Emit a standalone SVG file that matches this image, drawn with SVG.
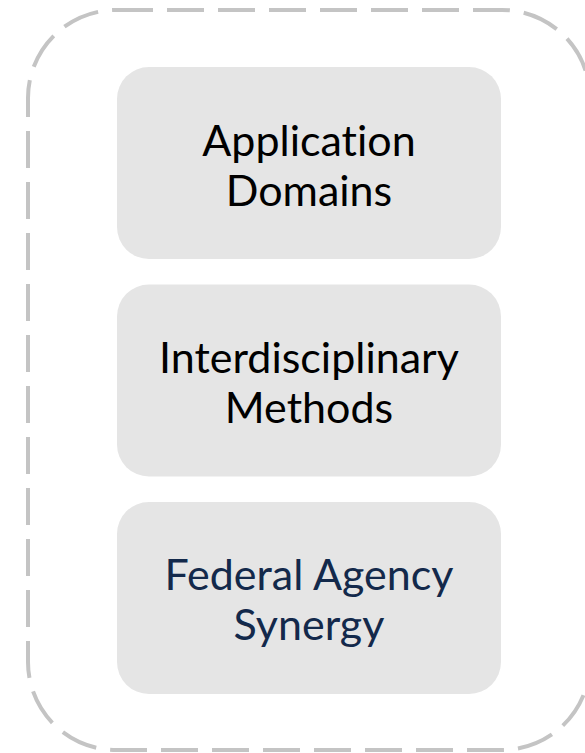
<svg xmlns="http://www.w3.org/2000/svg" width="585" height="753" viewBox="0 0 585 753">
<style>
.box{fill:#e5e5e5}
.t{font-family:Lato,"Liberation Sans",sans-serif;font-size:43px;text-anchor:middle;fill:#000;font-variant-ligatures:none}
.navy{fill:#13294b}
</style>
<rect width="585" height="753" fill="#fff"/>
<g id="container">
<rect x="28" y="10" width="562" height="740" rx="88" ry="88" fill="none" stroke="#c4c4c4" stroke-width="4" stroke-dasharray="37 14"/>
</g>
<g id="node-application">
<rect class="box" x="117" y="67" width="384" height="192" rx="32"/>
<text class="t" x="309" y="156">Application</text>
<text class="t" x="309" y="206">Domains</text>
</g>
<g id="node-methods">
<rect class="box" x="117" y="284.5" width="384" height="192" rx="32"/>
<text class="t" x="309" y="373">Interdisciplinary</text>
<text class="t" x="309" y="423">Methods</text>
</g>
<g id="node-federal">
<rect class="box" x="117" y="502" width="384" height="192" rx="32"/>
<text class="t navy" x="309" y="590">Federal Agency</text>
<text class="t navy" x="309" y="640">Synergy</text>
</g>
<g id="connectors"></g>
</svg>
